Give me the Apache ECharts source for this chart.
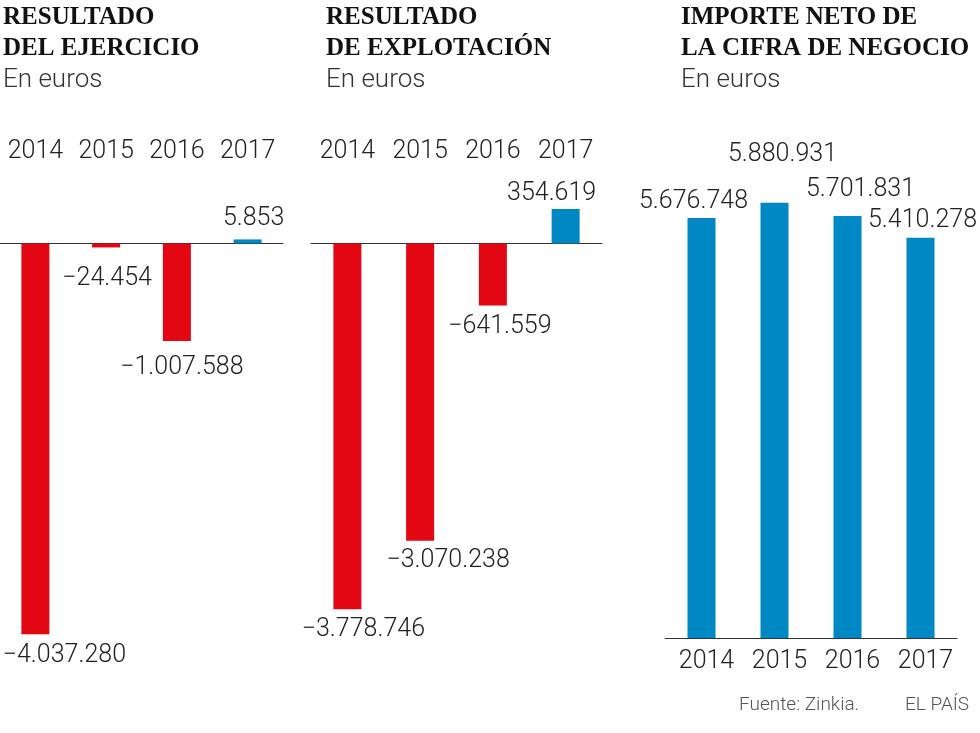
<!DOCTYPE html>
<html>
<head>
<meta charset="utf-8">
<script src="https://cdn.jsdelivr.net/npm/echarts@6.0.0/dist/echarts.min.js"></script>
<style>
  html, body { margin: 0; padding: 0; background: #fff; }
  #grafico { width: 980px; height: 733px; }
</style>
</head>
<body>
<div id="grafico"></div>
<script>
// Datos (en euros)
const anios = ['2014', '2015', '2016', '2017'];
const resultadoEjercicio = [-4037280, -24454, -1007588, 5853];
const resultadoExplotacion = [-3778746, -3070238, -641559, 354619];
const importeNeto = [5676748, 5880931, 5701831, 5410278];

const ROJO = '#e30613';
const AZUL = '#0088c4';
const TEXTO = '#222';
const NUM_FONT = 'Roboto';

// 1.234.567 con signo menos tipografico
function formato(v) {
  const s = Math.abs(v).toString().replace(/\B(?=(\d{3})+(?!\d))/g, '.');
  return (v < 0 ? '\u2212' : '') + s;
}

// desplazamientos de las etiquetas (solo estilo)
const offsets = [
  [[29, 1], [1, 11], [5, 6], [6, 0]],
  [[16, 0], [28, 0], [7, 1], [-14, 5]],
  [[-8, 1], [8, -31], [13, -9], [2, 1]]
];

function datosBarras(valores, idx) {
  return valores.map((v, i) => ({
    value: v,
    itemStyle: { color: v < 0 ? ROJO : AZUL },
    label: {
      position: v < 0 ? 'bottom' : 'top',
      offset: offsets[idx][i]
    }
  }));
}

const etiqueta = {
  show: true,
  formatter: p => formato(p.value),
  fontFamily: NUM_FONT,
  fontWeight: 300,
  fontSize: 25,
  color: TEXTO
};

function titulo(texto, left) {
  return {
    text: texto,
    subtext: 'En euros',
    left: left,
    top: 2,
    padding: 0,
    itemGap: 1,
    textStyle: {
      fontFamily: 'Liberation Serif',
      fontWeight: 'bold',
      fontSize: 25,
      lineHeight: 31,
      color: '#111'
    },
    subtextStyle: {
      fontFamily: NUM_FONT,
      fontWeight: 300,
      fontSize: 26,
      lineHeight: 30,
      color: '#333'
    }
  };
}

const ejeOculto = {
  type: 'value',
  show: false,
  splitLine: { show: false }
};

const ejeLinea = {
  type: 'category',
  data: anios,
  axisLine: { onZero: true, lineStyle: { color: '#333', width: 1 } },
  axisTick: { show: false },
  axisLabel: { show: false }
};

const ejeArriba = {
  type: 'category',
  data: anios,
  position: 'top',
  axisLine: { show: false, onZero: false },
  axisTick: { show: false },
  axisLabel: {
    interval: 0,
    fontFamily: NUM_FONT, fontWeight: 300, fontSize: 25, color: TEXTO, margin: 2
  }
};

var grafico = echarts.init(document.getElementById('grafico'));
var option = {
  animation: false,
  backgroundColor: '#fff',
  title: [
    titulo('RESULTADO\nDEL EJERCICIO', 3),
    titulo('RESULTADO\nDE EXPLOTACIÓN', 326),
    titulo('IMPORTE NETO DE\nLA CIFRA DE NEGOCIO', 681)
  ],
  grid: [
    { left: -7, width: 290, top: 166, height: 484 },
    { left: 311, width: 291, top: 166, height: 484 },
    { left: 665, width: 292, top: 157, height: 481 }
  ],
  xAxis: [
    Object.assign({ gridIndex: 0 }, ejeLinea),
    Object.assign({ gridIndex: 0 }, ejeArriba),
    Object.assign({ gridIndex: 1 }, ejeLinea),
    Object.assign({ gridIndex: 1 }, ejeArriba),
    {
      gridIndex: 2,
      type: 'category',
      data: anios,
      position: 'bottom',
      axisLine: { lineStyle: { color: '#333', width: 1 } },
      axisTick: { show: false },
      axisLabel: {
        interval: 0,
        fontFamily: NUM_FONT, fontWeight: 300, fontSize: 25, color: TEXTO,
        margin: 11, padding: [0, 0, 0, 10]
      }
    }
  ],
  yAxis: [
    Object.assign({ gridIndex: 0, min: -4200000, max: 800000 }, ejeOculto),
    Object.assign({ gridIndex: 1, min: -4200000, max: 800000 }, ejeOculto),
    Object.assign({ gridIndex: 2, min: 0, max: 6500000 }, ejeOculto)
  ],
  series: [
    {
      type: 'bar',
      xAxisIndex: 0,
      yAxisIndex: 0,
      barWidth: 28,
      barMinHeight: 4,
      data: datosBarras(resultadoEjercicio, 0),
      label: Object.assign({ distance: 8 }, etiqueta)
    },
    {
      type: 'bar',
      xAxisIndex: 2,
      yAxisIndex: 1,
      barWidth: 28,
      data: datosBarras(resultadoExplotacion, 1),
      label: Object.assign({ distance: 8 }, etiqueta)
    },
    {
      type: 'bar',
      xAxisIndex: 4,
      yAxisIndex: 2,
      barWidth: 28,
      data: datosBarras(importeNeto, 2),
      label: Object.assign({ distance: 5 }, etiqueta)
    }
  ],
  graphic: [
    {
      type: 'text',
      left: 739,
      top: 696,
      style: { text: 'Fuente: Zinkia.', font: '300 19px Roboto', fill: '#555' }
    },
    {
      type: 'text',
      left: 905,
      top: 696,
      style: { text: 'EL PAÍS', font: '300 19px Roboto', fill: '#555' }
    }
  ]
};
grafico.setOption(option);
</script>
</body>
</html>
